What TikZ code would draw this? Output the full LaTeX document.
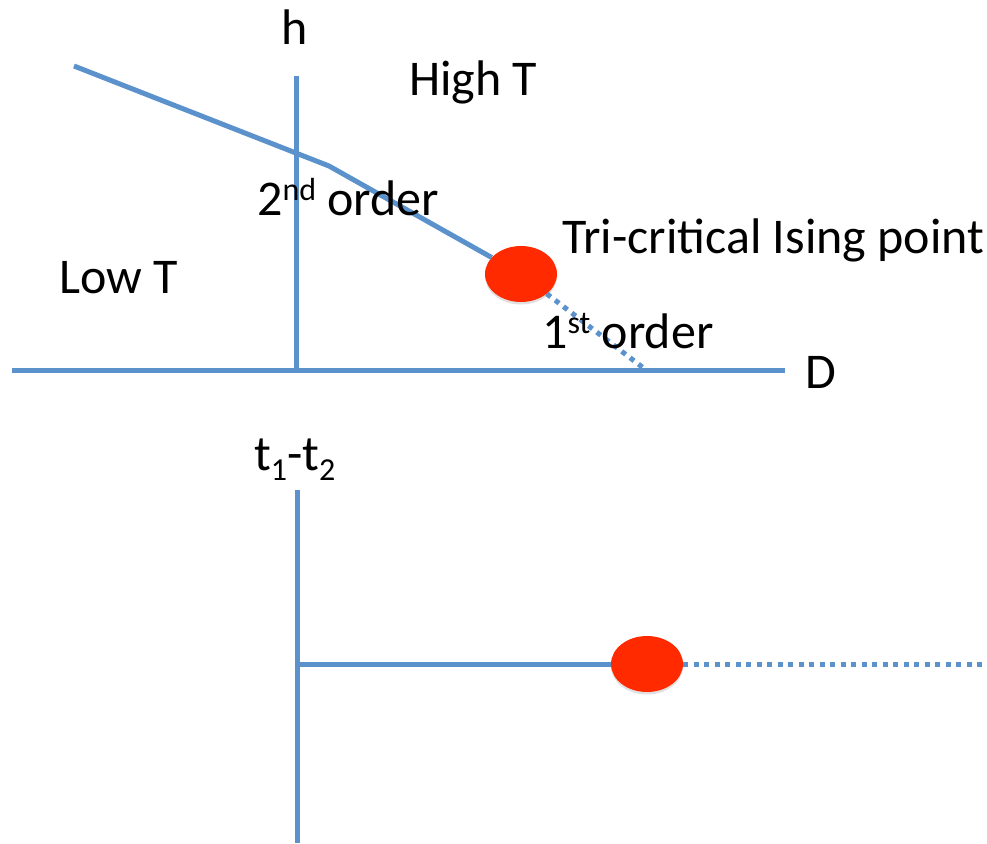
\documentclass[tikz,border=0pt]{standalone}
\usepackage{fontspec}
\setmainfont{Carlito}
\usetikzlibrary{shapes.geometric,shadows}
\definecolor{axisblue}{RGB}{91,146,204}
\definecolor{dotred}{RGB}{255,42,0}
\newcommand{\supx}[1]{\raisebox{0.3em}{\fontsize{32}{32}\selectfont #1}}
\newcommand{\subx}[1]{\raisebox{-0.2em}{\fontsize{32}{32}\selectfont #1}}
\begin{document}
\begin{tikzpicture}[x=1pt,y=-1pt,
  axisline/.style={draw=axisblue,line width=5pt},
  dotline/.style={draw=axisblue,line width=5pt,dash pattern=on 5pt off 5.5pt},
  tcp/.style={ellipse,fill=dotred,minimum width=72pt,minimum height=56pt,inner sep=0pt,
    drop shadow={opacity=0.12,shadow xshift=0pt,shadow yshift=-2.5pt,fill=black}},
  lbl/.style={inner sep=0pt,font=\fontsize{50}{60}\selectfont,anchor=base west}]
\useasboundingbox (0,0) rectangle (987,843);
% top diagram
\coordinate (hTop) at (296,76);
\coordinate (hBot) at (296,370);
\coordinate (dL) at (12,370);
\coordinate (dR) at (785,370);
\coordinate (p0) at (74,66);
\coordinate (kink) at (329,166);
\coordinate (fo) at (646,370);
\node[tcp] (tcp1) at (521,274) {};
\draw[axisline] (hTop) -- (hBot);
\draw[axisline] (dL) -- (dR);
\draw[axisline] (p0) -- (kink) -- (tcp1);
\draw[dotline] (tcp1) -- (fo);
\node[lbl,anchor=base] (h) at (295,45) {h};
\node[lbl] (hight) at (409,95) {High T};
\node[lbl] (lowt) at (59,293) {Low T};
\node[lbl] (second) at (257,215) {2\supx{nd} order};
\node[lbl] (tri) at (562,253) {Tri-critical Ising point};
\node[lbl] (first) at (542,348) {1\supx{st} order};
\node[lbl] (D) at (805,388) {D};
% bottom diagram
\coordinate (tTop) at (297,490);
\coordinate (tBot) at (297,843);
\coordinate (hl) at (297,664);
\coordinate (hr) at (987,664);
\draw[axisline] (tTop) -- (tBot);
\node[tcp] (tcp2) at (647,664) {};
\draw[axisline] (hl) -- (tcp2);
\draw[dotline] (tcp2) -- (hr);
\node[lbl] (tt) at (254,470) {t\subx{1}-t\subx{2}};
\end{tikzpicture}
\end{document}
